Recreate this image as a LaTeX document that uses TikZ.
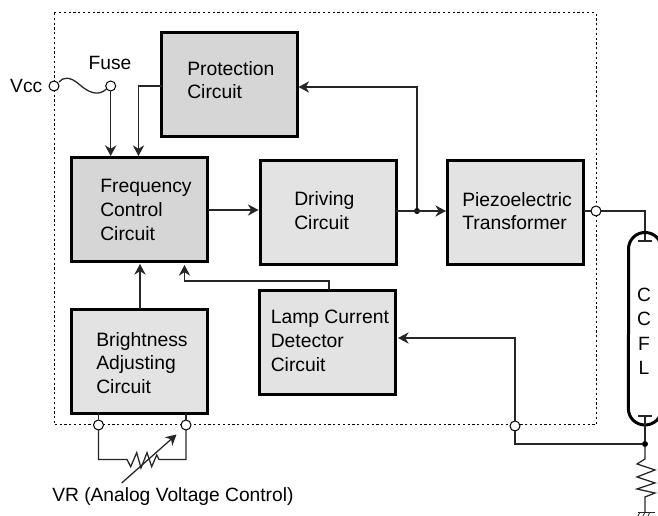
\documentclass[tikz,border=0pt]{standalone}
\usepackage{fontspec}
\setmainfont{Liberation Sans}
\usetikzlibrary{arrows.meta}
\definecolor{lightbox}{gray}{0.89}
\definecolor{darkbox}{gray}{0.84}
\tikzset{
  x=0.75pt,y=-0.75pt,
  block/.style={draw=black,line width=2.25pt,fill=lightbox,minimum width=102pt,minimum height=78pt,inner sep=0pt,outer sep=0pt,anchor=north west},
  darkblock/.style={block,fill=darkbox},
  blocktext/.style={font=\fontsize{14.5pt}{17.8pt}\selectfont,align=left,anchor=west,inner sep=0pt},
  plain/.style={font=\fontsize{14.4pt}{17pt}\selectfont,inner sep=0pt},
  wire/.style={line width=0.95pt,draw=black!85},
  arr/.style={wire,-{Stealth[length=8pt,width=8.5pt]}},
  term/.style={circle,draw=black,line width=0.75pt,fill=white,minimum size=7.5pt,inner sep=0pt,outer sep=0pt},
  junction/.style={circle,fill=black,minimum size=4.5pt,inner sep=0pt,outer sep=0pt},
}
\begin{document}
\begin{tikzpicture}
\useasboundingbox (0,0) rectangle (658,516);
% module outline
\draw[line width=0.75pt,dash pattern=on 1.6pt off 2pt] (54,13) rectangle (596,425);
% blocks
\node[darkblock] (prot) at (161.5,33) {};
\node[darkblock] (freq) at (71.5,157.5) {};
\node[block] (drv) at (260.5,160.5) {};
\node[block] (piezo) at (447.5,160.5) {};
\node[block] (lamp) at (259.5,290.5) {};
\node[block] (bright) at (71.5,309.5) {};
\node[blocktext] at (187,80) {Protection\\Circuit};
\node[blocktext] at (100,210) {Frequency\\Control\\Circuit};
\node[blocktext] at (294,210.5) {Driving\\Circuit};
\node[blocktext] at (462,211) {Piezoelectric\\Transformer};
\node[blocktext] at (270.5,341) {Lamp Current\\Detector\\Circuit};
\node[blocktext] at (96,363) {Brightness\\Adjusting\\Circuit};
% terminals
\node[term] (tvcc) at (54,86) {};
\node[term] (tfuse) at (110.7,86) {};
\node[term] (tout) at (596,211) {};
\node[term] (tfb) at (515,426) {};
\node[term] (tvra) at (98.5,425) {};
\node[term] (tvrb) at (186,425) {};
\node[junction] (jdrv) at (417,211) {};
\node[junction] (jlamp) at (645,444) {};
% labels
\node[plain,anchor=east] (vcc) at (42.5,85.5) {Vcc};
\node[plain] (fuse) at (110,63) {Fuse};
\node[plain,anchor=west] (vr) at (52,497) {VR (Analog Voltage Control)};
% fuse
\draw[wire] (59,82) .. controls (63,77) and (70,76) .. (80,85) .. controls (88,92) and (98,97) .. (106.5,89);
% arrows
\coordinate (f1) at (110.7,156);
\coordinate (f2) at (138.5,156);
\coordinate (pl) at (161.5,86);
\draw[arr] (tfuse) -- (f1);
\draw[arr] (pl) -- (138.5,86) -- (f2);
\draw[arr] (208,210) -- (258.5,210);
\draw[arr] (396,211) -- (446,211);
\draw[arr] (jdrv) |- (298.5,87);
\draw[arr] (329,290.5) -- (329,281) -- (184.5,281) -- (184.5,265);
\draw[arr] (140,309.5) -- (140,264);
\draw[arr] (tfb) -- (515,338) -- (398,338);
\draw[wire] (584,211) -- (tout);
\draw[wire] (tout) -- (645,211) -- (645,241);
% lamp
\draw[line width=2.25pt] (628.5,330) -- (628.5,249) arc[start angle=180,end angle=0,x radius=12.4pt,y radius=12.4pt] -- (661.5,409) arc[start angle=0,end angle=-180,x radius=12.4pt,y radius=12pt] -- cycle;
\draw[wire] (638,241) -- (652,241);
\draw[wire] (638,416) -- (652,416);
\node[plain,align=center,font=\fontsize{14.4pt}{18.4pt}\selectfont] (ccfl) at (644,331.5) {C\\C\\F\\L};
% return path and load
\draw[wire] (tfb) -- (515,444) -- (jlamp);
\draw[wire] (645,416) -- (jlamp);
\draw[wire] (jlamp) -- (645,459) -- (637,464) -- (655,470) -- (637,477) -- (655,483) -- (637,489) -- (655,493) -- (645,497) -- (645,512);
\draw[wire,line width=0.7pt] (638,512) -- (655,512);
\foreach \gx in {640,645,650} \draw[wire,line width=0.6pt] (\gx,512) -- (\gx-2,516);
% variable resistor
\draw[wire] (tvra) -- (98.5,414);
\draw[wire] (tvrb) -- (186,414);
\draw[wire] (tvra) -- (98.5,459.5) -- (127,459.5) -- (130.7,466.7) -- (136.7,452.7) -- (141,468) -- (147,452.7) -- (151.7,466.7) -- (156.7,455) -- (159,459.5) -- (186,459.5) -- (tvrb);
\coordinate (va) at (121.7,483);
\coordinate (vb) at (176.5,434.5);
\draw[arr] (va) -- (vb);
\end{tikzpicture}
\end{document}
